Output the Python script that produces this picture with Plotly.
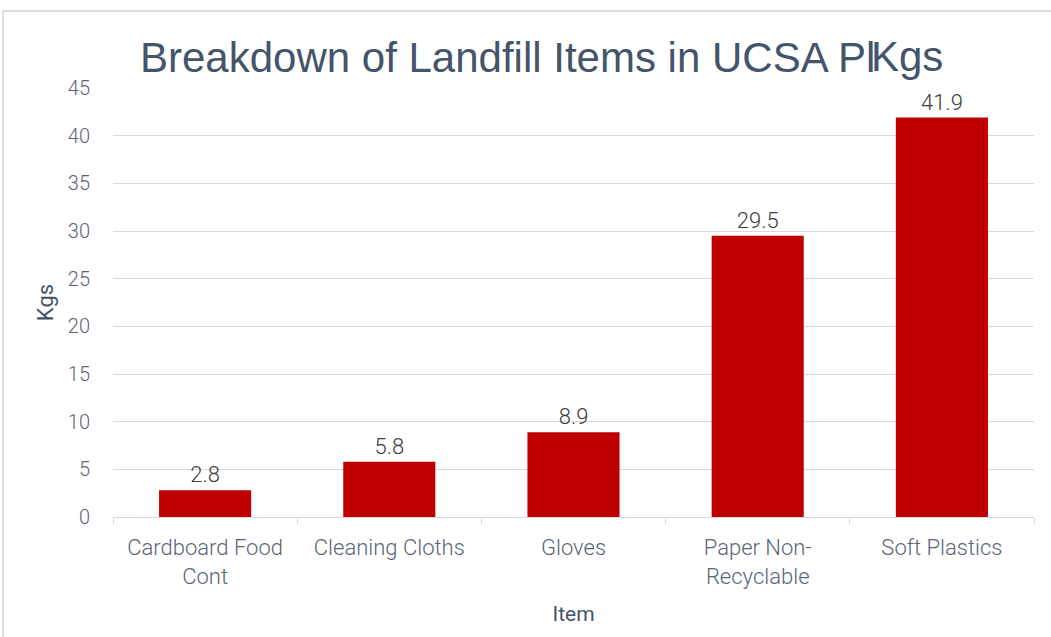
import plotly.graph_objects as go

categories = ["Cardboard Food<br>Cont", "Cleaning Cloths", "Gloves", "Paper Non-<br>Recyclable", "Soft Plastics"]
values = [2.8, 5.8, 8.9, 29.5, 41.9]
value_labels = ["2.8", "5.8", "8.9", "29.5", "41.9"]
y_ticks = [0, 5, 10, 15, 20, 25, 30, 35, 40, 45]

W, H = 1051, 637
L, R, T, B = 113, 17, 88, 120
pw, ph = W - L - R, H - T - B

def px_x(x):
    return (x - L) / pw

def px_y(y):
    return (H - B - y) / ph

FONT = "Roboto"
TXT = "#5B6577"

fig = go.Figure(go.Bar(
    x=categories, y=values, text=value_labels,
    textposition="outside", cliponaxis=False,
    textfont=dict(family=FONT, size=22, color="#404040", weight=300),
    marker=dict(color="#C00000", line=dict(width=0)),
))

fig.update_layout(
    width=W, height=H,
    margin=dict(l=L, r=R, t=T, b=B),
    paper_bgcolor="white", plot_bgcolor="white",
    bargap=0.5, showlegend=False,
    title=dict(text="Breakdown of Landfill Items in UCSA Pl",
               x=140 / W, xanchor="left", xref="container",
               y=1 - 57 / H, yanchor="middle", yref="container",
               font=dict(family="Liberation Sans", size=42, color="#44546A")),
    annotations=[dict(text="Kgs", xref="paper", yref="paper",
                      x=px_x(869), y=px_y(57), xanchor="left", yanchor="middle",
                      showarrow=False,
                      font=dict(family="Liberation Sans", size=42, color="#44546A"))],
    shapes=[dict(type="rect", xref="paper", yref="paper",
                 x0=px_x(3), x1=px_x(W + 5), y0=px_y(H + 5), y1=px_y(11),
                 line=dict(color="#D9DEE5", width=2), fillcolor="rgba(0,0,0,0)", layer="below")],
)

fig.update_yaxes(
    range=[0, 45], tickvals=y_ticks, ticktext=[str(v) for v in y_ticks],
    showgrid=True, gridcolor="#D9D9D9", gridwidth=1, zeroline=False,
    showline=False, ticks="", ticklabelstandoff=22,
    tickfont=dict(family=FONT, size=20, color=TXT, weight=300),
    title=dict(text="Kgs", standoff=8, font=dict(family=FONT, size=22, color="#44546A")),
)
fig.update_xaxes(
    showline=True, linecolor="#D9D9D9", linewidth=1,
    ticks="outside", tickson="boundaries", ticklen=6, tickcolor="#D9D9D9",
    ticklabelstandoff=11,
    tickfont=dict(family=FONT, size=22, color=TXT, weight=300),
    title=dict(text="Item", standoff=18, font=dict(family=FONT, size=21, color="#44546A")),
)

fig.write_html("out.html")
